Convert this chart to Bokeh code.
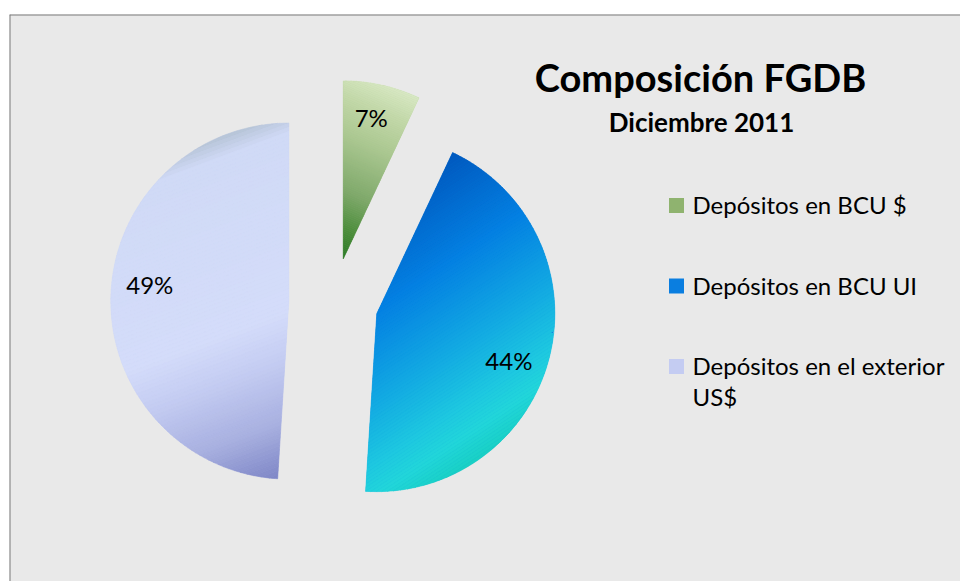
import numpy as np
from bokeh.plotting import figure
from bokeh.models import Range1d, ColumnDataSource, Span
from bokeh.core.properties import value
from bokeh.embed import file_html
from bokeh.resources import INLINE

# ---------------- data ----------------
categories = ["Depósitos en BCU  $", "Depósitos en BCU UI", "Depósitos en el exterior\nUS$"]
values = [7, 44, 49]
title_text = "Composición FGDB"
subtitle_text = "Diciembre 2011"

# ---------------- styles / layout ----------------
W, H = 960, 581
BL, BT = 9, 14                     # frame starts at page (9, 14)
FW, FH = W - BL, H - BT


def dx(sx):
    return sx - BL


def dy(sy):
    return H - sy


CENTER = (dx(333), dy(302))
RADIUS = 178
EXPLODE = 44.7
FONT = "Lato"
base_colors = ["#9cc080", "#0a8ae0", "#c8d0f2"]
legend_colors = ["#8fb36f", "#0a7ee0", "#c4ccf2"]
grad_dirs = [(0.40, -0.92), (0.55, 0.83), (0.35, 0.94)]   # screen-space direction, t=0 -> t=1
grad_stops = [
    [(0.0, "#2a7a26"), (0.15, "#4a8c3a"), (0.35, "#7ea86a"), (0.65, "#acc892"), (0.85, "#c4d9aa"), (1.0, "#d8e8c4")],
    [(0.0, "#0058be"), (0.33, "#0480e2"), (0.6, "#12a8e2"), (0.8, "#1ec8e0"), (0.9, "#22d6da"), (1.0, "#18d0c4")],
    [(0.0, "#b6c4d6"), (0.06, "#d0daf6"), (0.55, "#d4dcfa"), (0.68, "#c4ccf2"), (0.85, "#a8b0e0"), (1.0, "#7e86c6")],
]
N_BANDS = 90
LABEL_R = [144, 140, 140]
LABEL_SHIFT_DEG = [-1.4, 5, 5]


def hex2rgb(h):
    h = h.lstrip("#")
    return np.array([int(h[i:i + 2], 16) for i in (0, 2, 4)], dtype=float)


def grad_color(stops, t):
    t = min(max(t, 0.0), 1.0)
    for (t0, c0), (t1, c1) in zip(stops[:-1], stops[1:]):
        if t <= t1:
            f = 0 if t1 == t0 else (t - t0) / (t1 - t0)
            c = hex2rgb(c0) * (1 - f) + hex2rgb(c1) * f
            return "#%02x%02x%02x" % tuple(int(round(v)) for v in c)
    return stops[-1][1]


def clip_half(poly, gx, gy, c, keep_ge):
    """Sutherland-Hodgman clip against half-plane gx*x+gy*y >= c (or <= c)."""
    out = []
    n = len(poly)
    if n == 0:
        return out

    def inside(pt):
        v = gx * pt[0] + gy * pt[1] - c
        return v >= 0 if keep_ge else v <= 0

    for i in range(n):
        cur, prev = poly[i], poly[i - 1]
        ci, pi = inside(cur), inside(prev)
        if ci != pi:
            v1 = gx * prev[0] + gy * prev[1] - c
            v2 = gx * cur[0] + gy * cur[1] - c
            f = v1 / (v1 - v2)
            out.append((prev[0] + f * (cur[0] - prev[0]), prev[1] + f * (cur[1] - prev[1])))
        if ci:
            out.append(cur)
    return out


p = figure(width=W, height=H, output_backend="svg", toolbar_location=None,
           x_axis_type=None, y_axis_type=None,
           x_range=Range1d(0, FW), y_range=Range1d(0, FH),
           min_border_left=BL, min_border_top=BT, min_border_right=0, min_border_bottom=0)
p.background_fill_color = "#e9e9e9"
p.border_fill_color = "white"
p.outline_line_color = None
p.xgrid.visible = False
p.ygrid.visible = False
# chart-area border: only left and top edges are inside the window
p.add_layout(Span(location=0, dimension="height", line_color="#7a7a7a", line_width=2))
p.add_layout(Span(location=FH, dimension="width", line_color="#7a7a7a", line_width=2))

total = float(sum(values))
cum = np.cumsum([0] + values) / total * 360.0   # clockwise from 12 o'clock

apexes, mids = [], []
for i, v in enumerate(values):
    a0, a1 = cum[i], cum[i + 1]
    mid = np.radians((a0 + a1) / 2)
    apexes.append((CENTER[0] + EXPLODE * np.sin(mid), CENTER[1] + EXPLODE * np.cos(mid)))
    mids.append((a0 + a1) / 2)

# base wedges (the slices)
ws = ColumnDataSource(dict(
    x=[a[0] for a in apexes], y=[a[1] for a in apexes],
    start=[np.radians(90 - cum[i]) for i in range(len(values))],
    end=[np.radians(90 - cum[i + 1]) for i in range(len(values))],
    color=base_colors, cat=categories))
p.wedge(x="x", y="y", radius=RADIUS, start_angle="start", end_angle="end",
        direction="clock", fill_color="color", line_color=None, source=ws)

# linear-gradient shading of each slice: bands of the slice outline
bxs, bys, bcs = [], [], []
for i, v in enumerate(values):
    a0, a1 = cum[i], cum[i + 1]
    ax, ay = apexes[i]
    gx, gy = grad_dirs[i][0], -grad_dirs[i][1]  # data space (y up)
    th = np.radians(np.linspace(a0, a1, 240))
    poly = [(ax, ay)] + [(ax + RADIUS * np.sin(t), ay + RADIUS * np.cos(t)) for t in th]
    proj = [gx * q[0] + gy * q[1] for q in poly]
    pmin, pmax = min(proj), max(proj)
    for k in range(N_BANDS):
        lo = pmin + (pmax - pmin) * k / N_BANDS
        hi = pmin + (pmax - pmin) * (k + 1) / N_BANDS
        piece = clip_half(poly, gx, gy, lo, True)
        piece = clip_half(piece, gx, gy, hi, False)
        if len(piece) < 3:
            continue
        bxs.append([q[0] for q in piece])
        bys.append([q[1] for q in piece])
        bcs.append(grad_color(grad_stops[i], (k + 0.5) / N_BANDS))

bs = ColumnDataSource(dict(xs=bxs, ys=bys, c=bcs))
p.patches(xs="xs", ys="ys", fill_color="c", line_color="c", line_width=0.6, source=bs)

# percentage labels
lx, ly, lt = [], [], []
for i, v in enumerate(values):
    ang = np.radians(mids[i] + LABEL_SHIFT_DEG[i])
    lx.append(apexes[i][0] + LABEL_R[i] * np.sin(ang))
    ly.append(apexes[i][1] + LABEL_R[i] * np.cos(ang))
    lt.append("%d%%" % round(v / total * 100))
p.text(x=lx, y=ly, text=lt, text_font=value(FONT), text_font_size="24px",
       text_align="center", text_baseline="middle", text_color="black")

# title
p.text(x=[dx(700)], y=[dy(76)], text=[title_text], text_font=value(FONT),
       text_font_size="38px", text_font_style="bold", text_align="center",
       text_baseline="middle", text_color="black")
p.text(x=[dx(701)], y=[dy(121)], text=[subtitle_text], text_font=value(FONT),
       text_font_size="26px", text_font_style="bold", text_align="center",
       text_baseline="middle", text_color="black")

# legend (manual)
LEG_SQ_X = dx(676)
LEG_TXT_X = dx(692)
LEG_Y0 = 204          # centre line of first entry
LEG_STEP = 80.5
LINE_H = 31
sqx, sqy, tx, ty, tt = [], [], [], [], []
for i, cat in enumerate(categories):
    yc = LEG_Y0 + i * LEG_STEP
    sqx.append(LEG_SQ_X)
    sqy.append(dy(yc + 1))
    for j, line in enumerate(cat.split("\n")):
        tx.append(LEG_TXT_X)
        ty.append(dy(yc + j * LINE_H))
        tt.append(line)
p.scatter(x=sqx, y=sqy, marker="square", size=15, fill_color=legend_colors,
          line_color=None)
p.text(x=tx, y=ty, text=tt, text_font=value(FONT), text_font_size="24px",
       text_align="left", text_baseline="middle", text_color="black")

open("out.html", "w").write(file_html(p, INLINE))
